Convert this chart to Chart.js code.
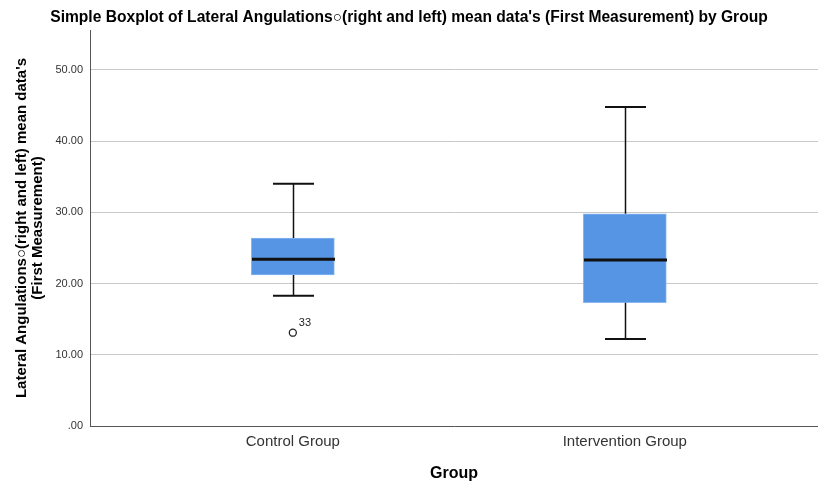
<!DOCTYPE html>
<html>
<head>
<meta charset="utf-8">
<script src="https://cdn.jsdelivr.net/npm/chart.js@4/dist/chart.umd.min.js"></script>
<style>
  body { margin: 0; background: #fff; }
  #box { display: block; }
</style>
</head>
<body>
<canvas id="box" width="818" height="485"></canvas>
<script>
(function() {
    "use strict";
    // values
    var groups = ['Control Group', 'Intervention Group'];
    var groupPos = [1, 2];
    var whiskerLow = [18.3, 12.2];
    var q1 = [21.2, 17.3];
    var median = [23.4, 23.3];
    var q3 = [26.4, 29.8];
    var whiskerHigh = [34.0, 44.8];
    var outlierGroup = [1];
    var outlierValue = [13.1];
    var outlierLabel = ['33'];
    var yTicks = [0, 10, 20, 30, 40, 50];

    var fontFam = '"Liberation Sans", Arial, sans-serif';

    var boxData = groupPos.map(function(x, i) {
        return { x: x, y: [q1[i], q3[i]] };
    });
    var outlierData = outlierGroup.map(function(g, i) {
        return { x: groupPos[g - 1], y: outlierValue[i] };
    });

    // whiskers, medians and outlier labels
    var boxExtras = {
        id: 'boxExtras',
        afterDatasetsDraw: function(chart) {
            var ctx = chart.ctx;
            var xs = chart.scales.x, ys = chart.scales.y;
            var half = 83 / 2, cap = 41 / 2;
            ctx.save();
            ctx.strokeStyle = '#111';
            groupPos.forEach(function(g, i) {
                var cx = Math.round(xs.getPixelForValue(g)) + 0.5;
                var yl = ys.getPixelForValue(whiskerLow[i]);
                var y1 = ys.getPixelForValue(q1[i]);
                var y3 = ys.getPixelForValue(q3[i]);
                var yh = ys.getPixelForValue(whiskerHigh[i]);
                var ym = ys.getPixelForValue(median[i]);
                ctx.lineWidth = 1.5;
                ctx.beginPath();
                ctx.moveTo(cx, y3); ctx.lineTo(cx, yh);
                ctx.moveTo(cx, y1); ctx.lineTo(cx, yl);
                ctx.stroke();
                ctx.lineWidth = 2;
                ctx.beginPath();
                ctx.moveTo(cx - cap, yh); ctx.lineTo(cx + cap, yh);
                ctx.moveTo(cx - cap, yl); ctx.lineTo(cx + cap, yl);
                ctx.stroke();
                ctx.lineWidth = 3;
                ctx.beginPath();
                ctx.moveTo(cx - half, ym); ctx.lineTo(cx + half, ym);
                ctx.stroke();
            });
            ctx.fillStyle = '#222';
            ctx.font = '11px ' + fontFam;
            ctx.textAlign = 'left';
            ctx.textBaseline = 'middle';
            outlierGroup.forEach(function(g, i) {
                var px = xs.getPixelForValue(groupPos[g - 1]);
                var py = ys.getPixelForValue(outlierValue[i]);
                ctx.fillText(outlierLabel[i], px + 6, py - 10);
            });
            ctx.restore();
        }
    };

    var ctx = document.getElementById('box').getContext('2d');
    new Chart(ctx, {
        type: 'bar',
        data: {
            datasets: [{
                label: 'box',
                data: boxData,
                backgroundColor: 'rgb(85,149,228)',
                borderColor: 'rgb(135,182,240)',
                borderWidth: 1,
                borderSkipped: false,
                barThickness: 83,
                order: 2
            }, {
                type: 'scatter',
                label: 'outliers',
                data: outlierData,
                pointStyle: 'circle',
                pointRadius: 3.5,
                pointBorderWidth: 1.3,
                pointBackgroundColor: '#fff',
                pointBorderColor: '#222',
                order: 1
            }]
        },
        options: {
            responsive: false,
            animation: false,
            layout: { autoPadding: false, padding: 0 },
            plugins: {
                legend: { display: false },
                tooltip: { enabled: false },
                title: {
                    display: true,
                    text: 'Simple Boxplot of Lateral Angulations\u25CB(right and left) mean data\'s (First Measurement) by Group',
                    color: '#000',
                    font: { family: fontFam, size: 15.6, weight: 'bold', lineHeight: 1.2 },
                    padding: { top: 8.3, bottom: 3 }
                }
            },
            scales: {
                x: {
                    type: 'linear',
                    min: 0.389,
                    max: 2.582,
                    offset: false,
                    grid: { display: false, drawTicks: false },
                    border: { color: '#555', width: 1 },
                    afterBuildTicks: function(scale) {
                        scale.ticks = groupPos.map(function(v) { return { value: v }; });
                    },
                    afterFit: function(scale) { scale.height = 59; },
                    ticks: {
                        padding: 7,
                        color: '#333',
                        font: { family: fontFam, size: 15 },
                        callback: function(v) { return groups[v - 1]; }
                    },
                    title: {
                        display: true,
                        text: 'Group',
                        color: '#000',
                        font: { family: fontFam, size: 16, weight: 'bold', lineHeight: 1.2 },
                        padding: { top: 0, bottom: 2 }
                    }
                },
                y: {
                    min: 0,
                    max: 55.6,
                    grid: {
                        drawTicks: false,
                        color: function(c) { return c.tick && c.tick.value === 0 ? 'rgba(0,0,0,0)' : '#c8c8c8'; }
                    },
                    border: { color: '#555', width: 1 },
                    afterBuildTicks: function(scale) {
                        scale.ticks = yTicks.map(function(v) { return { value: v }; });
                    },
                    afterFit: function(scale) { scale.width = 90; },
                    ticks: {
                        padding: 7,
                        color: '#333',
                        font: { family: fontFam, size: 11 },
                        callback: function(v) { return v === 0 ? '.00' : v.toFixed(2); }
                    },
                    title: {
                        display: true,
                        text: ['Lateral Angulations\u25CB(right and left) mean data\'s', '(First Measurement)'],
                        color: '#000',
                        font: { family: fontFam, size: 15, weight: 'bold', lineHeight: 1.05 },
                        padding: { top: 14, bottom: 0 }
                    }
                }
            }
        },
        plugins: [boxExtras]
    });
})();
</script>
</body>
</html>
